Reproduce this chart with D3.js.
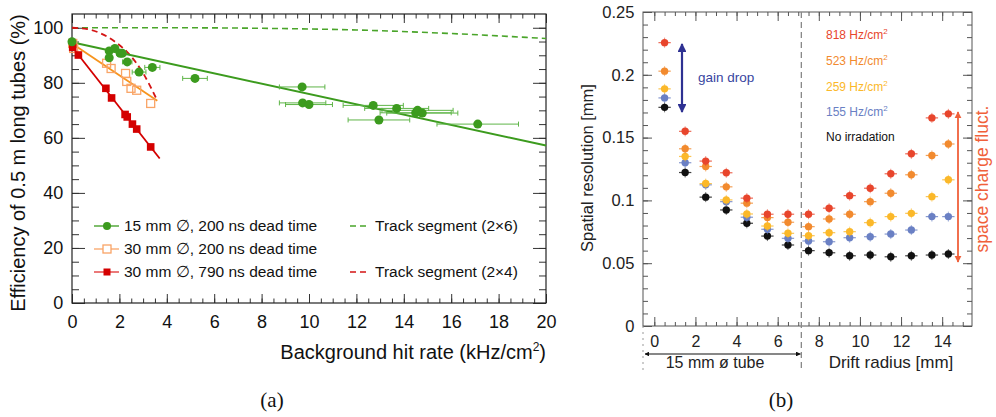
<!DOCTYPE html>
<html>
<head>
<meta charset="utf-8">
<title>Tube efficiency and spatial resolution</title>
<script src="https://d3js.org/d3.v7.min.js"></script>
<style>
  html, body { margin: 0; padding: 0; background: #fff; overflow: hidden; }
  svg { display: block; font-family: "Liberation Sans", Arial, sans-serif; }
  .minor .domain, .major .domain { display: none; }
</style>
</head>
<body>
<svg id="chart" width="996" height="417"></svg>
<script>
// ---- panel (a): efficiency vs background hit rate ----
var effX15  = [0, 1.57, 1.81, 2.03, 2.12, 1.57, 2.33, 2.83, 3.39, 5.19, 9.71, 9.73, 10.0, 12.71, 12.95, 13.7, 14.5, 14.58, 14.78, 17.12];
var effY15  = [94.9, 91.6, 92.5, 90.7, 90.7, 89.1, 87.6, 83.9, 85.6, 81.6, 78.5, 72.7, 72.1, 71.8, 66.5, 70.7, 69.1, 70.0, 69.0, 65.0];
var errX15  = [0, 0.1, 0.1, 0.15, 0.15, 0.1, 0.2, 0.29, 0.32, 0.52, 0.96, 0.98, 0.99, 1.27, 1.3, 1.35, 1.5, 1.5, 1.5, 1.72];
var effX30  = [0.03, 0.07, 1.46, 1.65, 2.26, 2.31, 2.49, 2.73, 3.32];
var effY30  = [94.3, 92.5, 87.1, 85.2, 83.4, 80.5, 78.0, 77.3, 72.5];
var effX790 = [0.03, 0.27, 1.43, 1.67, 2.24, 2.33, 2.55, 2.73, 3.32];
var effY790 = [92.9, 90.1, 78.0, 74.5, 68.5, 67.6, 65.0, 63.2, 56.7];
// fitted lines
var fitX15 = [0, 20],   fitY15 = [94.7, 57.2];
var fitX30 = [0, 3.6],  fitY30 = [94.3, 73.5];
var fitX790 = [0, 3.7], fitY790 = [93.1, 52.5];
// track segment curves
var trkX6 = [0, 4, 8, 12, 16, 20];
var trkY6 = [100, 100, 99.8, 99.2, 97.9, 96.1];
var trkX4 = [0, 0.6, 1.2, 1.8, 2.4, 3.0, 3.6];
var trkY4 = [100, 99.6, 98, 95, 90.5, 83.5, 73.5];
var legendA = ["15 mm \u2205, 200 ns dead time", "30 mm \u2205, 200 ns dead time", "30 mm \u2205, 790 ns dead time"];
var legendTrk = ["Track segment (2\u00d76)", "Track segment (2\u00d74)"];

// ---- panel (b): spatial resolution vs drift radius ----
var rRad   = [0.5, 1.5, 2.5, 3.5, 4.5, 5.5, 6.5, 7.5, 8.5, 9.5, 10.5, 11.5, 12.5, 13.5, 14.3];
var res818 = [0.2256, 0.155, 0.1313, 0.122, 0.1018, 0.089, 0.089, 0.089, 0.0938, 0.1038, 0.1097, 0.1212, 0.1371, 0.1657, 0.1689];
var res523 = [0.2029, 0.1411, 0.127, 0.1108, 0.0978, 0.0863, 0.0826, 0.0791, 0.0852, 0.089, 0.099, 0.1057, 0.1204, 0.1358, 0.1449];
var res259 = [0.1888, 0.135, 0.1134, 0.1004, 0.0892, 0.0796, 0.0738, 0.0719, 0.0743, 0.0751, 0.0823, 0.0871, 0.0897, 0.103, 0.1164];
var res155 = [0.1816, 0.130, 0.1124, 0.099, 0.0866, 0.077, 0.0698, 0.0677, 0.0671, 0.0703, 0.0711, 0.0732, 0.0764, 0.0871, 0.0871];
var res0   = [0.1741, 0.1222, 0.1026, 0.0924, 0.0818, 0.0716, 0.0645, 0.060, 0.0583, 0.0559, 0.0565, 0.0551, 0.0559, 0.0565, 0.0573];
var rateLabels = ["818 Hz/cm", "523 Hz/cm", "259 Hz/cm", "155 Hz/cm", "No irradation"];

var svg = d3.select("#chart");

// draws major (labelled) + minor ticks for one side of a frame
function sideTicks(g, axisFn, scale, majors, minors, majLen, minLen, fmt, fontSize) {
  g.append("g").attr("class", "minor")
    .call(axisFn(scale).tickValues(minors).tickSize(-minLen).tickFormat(""));
  var maj = g.append("g").attr("class", "major")
    .call(axisFn(scale).tickValues(majors).tickSize(-majLen).tickPadding(7).tickFormat(fmt || ""));
  maj.selectAll("text").attr("font-size", fontSize || 18).attr("font-family", null).attr("fill", "#111");
  return maj;
}

// ================= panel (a) =================
var xA = d3.scaleLinear().domain([0, 20]).range([72, 546]);
var yA = d3.scaleLinear().domain([0, 105]).range([303, 14]);
var gA = svg.append("g");

var xMajA = d3.range(0, 20.01, 2), xMinA = d3.range(0, 20.01, 0.5);
var yMajA = d3.range(0, 100.1, 20), yMinA = d3.range(0, 105, 5);
sideTicks(gA.append("g").attr("transform", "translate(0,303)"), d3.axisBottom, xA, xMajA, xMinA, 9, 4.5, d3.format("d"))
  .selectAll("text").attr("dy", "1.0em");
sideTicks(gA.append("g").attr("transform", "translate(0,14)"), d3.axisTop, xA, xMajA, xMinA, 9, 4.5);
sideTicks(gA.append("g").attr("transform", "translate(72,0)"), d3.axisLeft, yA, yMajA, yMinA, 13, 7, d3.format("d"))
  .selectAll("text").attr("dx", "-0.1em");
sideTicks(gA.append("g").attr("transform", "translate(546,0)"), d3.axisRight, yA, yMajA, yMinA, 13, 7);
gA.selectAll(".tick line").attr("stroke", "#333");
gA.append("rect").attr("x", 72).attr("y", 14).attr("width", 474).attr("height", 289)
  .attr("fill", "none").attr("stroke", "#222").attr("stroke-width", 1.2);

var lineA = d3.line().x(function(d) { return xA(d[0]); }).y(function(d) { return yA(d[1]); });
var smoothA = d3.line().curve(d3.curveMonotoneX).x(function(d) { return xA(d[0]); }).y(function(d) { return yA(d[1]); });
function pairs(xs, ys) { return xs.map(function(x, i) { return [x, ys[i]]; }); }

gA.append("path").attr("d", smoothA(pairs(trkX6, trkY6))).attr("fill", "none")
  .attr("stroke", "#4aa52a").attr("stroke-width", 1.6).attr("stroke-dasharray", "6,4");
gA.append("path").attr("d", smoothA(pairs(trkX4, trkY4))).attr("fill", "none")
  .attr("stroke", "#d41414").attr("stroke-width", 1.8).attr("stroke-dasharray", "6,4");
gA.append("path").attr("d", lineA(pairs(fitX15, fitY15))).attr("fill", "none")
  .attr("stroke", "#3c9b1e").attr("stroke-width", 2);
gA.append("path").attr("d", lineA(pairs(fitX30, fitY30))).attr("fill", "none")
  .attr("stroke", "#f7941d").attr("stroke-width", 1.8);
gA.append("path").attr("d", lineA(pairs(fitX790, fitY790))).attr("fill", "none")
  .attr("stroke", "#d40000").attr("stroke-width", 1.8);

// green horizontal error bars
var g15 = pairs(effX15, effY15).map(function(p, i) { return { x: p[0], y: p[1], e: errX15[i] }; });
var eb = gA.append("g").attr("stroke", "#5fb548").attr("stroke-width", 1);
g15.filter(function(d) { return d.e > 0.12; }).forEach(function(d) {
  var y = yA(d.y);
  eb.append("line").attr("x1", xA(d.x - d.e)).attr("x2", xA(d.x + d.e)).attr("y1", y).attr("y2", y);
  eb.append("line").attr("x1", xA(d.x - d.e)).attr("x2", xA(d.x - d.e)).attr("y1", y - 2.5).attr("y2", y + 2.5);
  eb.append("line").attr("x1", xA(d.x + d.e)).attr("x2", xA(d.x + d.e)).attr("y1", y - 2.5).attr("y2", y + 2.5);
});

gA.append("g").selectAll("rect").data(pairs(effX30, effY30)).join("rect")
  .attr("x", function(d) { return xA(d[0]) - 4; }).attr("y", function(d) { return yA(d[1]) - 4; })
  .attr("width", 8).attr("height", 8).attr("fill", "none").attr("stroke", "#f9a466").attr("stroke-width", 1.3);
gA.append("g").selectAll("rect").data(pairs(effX790, effY790)).join("rect")
  .attr("x", function(d) { return xA(d[0]) - 3.8; }).attr("y", function(d) { return yA(d[1]) - 3.8; })
  .attr("width", 7.6).attr("height", 7.6).attr("fill", "#d40000");
gA.append("g").selectAll("circle").data(g15).join("circle")
  .attr("cx", function(d) { return xA(d.x); }).attr("cy", function(d) { return yA(d.y); })
  .attr("r", 4.5).attr("fill", "#3c9b1e");

// legend (a)
var legY = [226, 249, 272];
var legCol = ["#3c9b1e", "#f9a466", "#e03030"];
legendA.forEach(function(t, i) {
  var row = gA.append("g").attr("transform", "translate(0," + legY[i] + ")");
  row.append("line").attr("x1", 94).attr("x2", 119).attr("stroke", legCol[i]).attr("stroke-width", 1.3);
  if (i === 0) row.append("circle").attr("cx", 107).attr("r", 4).attr("fill", "#3c9b1e");
  if (i === 1) row.append("rect").attr("x", 103).attr("y", -4).attr("width", 8).attr("height", 8)
    .attr("fill", "#fff").attr("stroke", "#f9a466").attr("stroke-width", 1.3);
  if (i === 2) row.append("rect").attr("x", 103.5).attr("y", -3.5).attr("width", 7).attr("height", 7).attr("fill", "#d40000");
  row.append("text").attr("x", 124).attr("dy", "0.35em").attr("font-size", 15.5).attr("fill", "#111").text(t);
});
[[226, "#4aa52a", legendTrk[0]], [272, "#d41414", legendTrk[1]]].forEach(function(r) {
  var row = gA.append("g").attr("transform", "translate(0," + r[0] + ")");
  row.append("line").attr("x1", 350).attr("x2", 368).attr("stroke", r[1]).attr("stroke-width", 1.5).attr("stroke-dasharray", "6,4");
  row.append("text").attr("x", 375).attr("dy", "0.35em").attr("font-size", 15.5).attr("fill", "#111").text(r[2]);
});

// axis titles (a)
var xtA = gA.append("text").attr("x", 546).attr("y", 359).attr("text-anchor", "end").attr("font-size", 20).attr("fill", "#111");
xtA.append("tspan").text("Background hit rate (kHz/cm");
xtA.append("tspan").attr("dy", -8).attr("font-size", 12).text("2");
xtA.append("tspan").attr("dy", 8).text(")");
gA.append("text").attr("transform", "translate(25,163) rotate(-90)").attr("text-anchor", "middle")
  .attr("font-size", 20).attr("fill", "#111").text("Efficiency of 0.5 m long tubes (%)");
gA.append("text").attr("x", 272).attr("y", 407).attr("text-anchor", "middle")
  .attr("font-family", "'Liberation Serif', 'DejaVu Serif', serif").attr("font-size", 21).attr("fill", "#111").text("(a)");

// ================= panel (b) =================
var xB = d3.scaleLinear().domain([-0.55, 15.45]).range([643, 972]);
var yB = d3.scaleLinear().domain([0, 0.25]).range([326, 12]);
var gB = svg.append("g");

var xMajB = d3.range(0, 14.1, 2), xMinB = d3.range(0, 15.01, 0.5);
var yMajB = d3.range(0, 0.2501, 0.05), yMinB = d3.range(0, 0.2501, 0.01);
var fmtB = function(v) { return v === 0 ? "0" : d3.format(".2~f")(v); };
sideTicks(gB.append("g").attr("transform", "translate(0,326)"), d3.axisBottom, xB, xMajB, xMinB, 9, 4, d3.format("d"), 16)
  .selectAll("text").attr("dy", "0.9em");
sideTicks(gB.append("g").attr("transform", "translate(0,12)"), d3.axisTop, xB, xMajB, xMinB, 9, 4);
sideTicks(gB.append("g").attr("transform", "translate(643,0)"), d3.axisLeft, yB, yMajB, yMinB, 9, 5, fmtB, 16.5)
  .selectAll("text").attr("dx", "-0.1em");
sideTicks(gB.append("g").attr("transform", "translate(972,0)"), d3.axisRight, yB, yMajB, yMinB, 9, 5);
gB.selectAll(".tick line").attr("stroke", "#555");
gB.selectAll(".major text").attr("fill", "#222");
gB.append("rect").attr("x", 643).attr("y", 12).attr("width", 329).attr("height", 314)
  .attr("fill", "none").attr("stroke", "#555").attr("stroke-width", 1);

// tube boundary and annotations
gB.append("line").attr("x1", xB(7.15)).attr("x2", xB(7.15)).attr("y1", 12).attr("y2", 372)
  .attr("stroke", "#888").attr("stroke-width", 1.3).attr("stroke-dasharray", "6,4");
gB.append("line").attr("x1", 643).attr("x2", 643).attr("y1", 326).attr("y2", 372)
  .attr("stroke", "#999").attr("stroke-width", 1).attr("stroke-dasharray", "2,4");

var defs = svg.append("defs");
function marker(id, col) {
  defs.append("marker").attr("id", id).attr("viewBox", "0 0 10 10").attr("refX", 9).attr("refY", 5)
    .attr("markerWidth", 4).attr("markerHeight", 4).attr("orient", "auto-start-reverse")
    .append("path").attr("d", "M0,0L10,5L0,10Z").attr("fill", col);
}
marker("arrK", "#111"); marker("arrB", "#2e3192"); marker("arrR", "#f0603a");

gB.append("line").attr("x1", 645).attr("x2", xB(7.15) - 1).attr("y1", 354).attr("y2", 354)
  .attr("stroke", "#111").attr("stroke-width", 1.2)
  .attr("marker-start", "url(#arrK)").attr("marker-end", "url(#arrK)");
gB.append("text").attr("x", 715).attr("y", 368).attr("text-anchor", "middle").attr("font-size", 16)
  .attr("fill", "#222").text("15 mm \u00f8 tube");
gB.append("text").attr("x", 891).attr("y", 368).attr("text-anchor", "middle").attr("font-size", 17)
  .attr("fill", "#222").text("Drift radius [mm]");
gB.append("text").attr("transform", "translate(593,168) rotate(-90)").attr("text-anchor", "middle")
  .attr("font-size", 16.5).attr("fill", "#222").text("Spatial resolution [mm]");
gB.append("text").attr("x", 781).attr("y", 407).attr("text-anchor", "middle")
  .attr("font-family", "'Liberation Serif', 'DejaVu Serif', serif").attr("font-size", 21).attr("fill", "#111").text("(b)");

// gain drop arrow
gB.append("line").attr("x1", 682).attr("x2", 682).attr("y1", 44).attr("y2", 112)
  .attr("stroke", "#2e3192").attr("stroke-width", 2.2)
  .attr("marker-start", "url(#arrB)").attr("marker-end", "url(#arrB)");
gB.append("text").attr("x", 698).attr("y", 77).attr("dy", "0.35em").attr("font-size", 13.5)
  .attr("fill", "#3845a0").text("gain drop");

// space charge arrow
gB.append("line").attr("x1", 958).attr("x2", 958).attr("y1", 112).attr("y2", 262)
  .attr("stroke", "#f0603a").attr("stroke-width", 1.8)
  .attr("marker-start", "url(#arrR)").attr("marker-end", "url(#arrR)");
gB.append("text").attr("transform", "translate(982,179) rotate(-90)").attr("text-anchor", "middle")
  .attr("dy", "0.35em").attr("font-size", 17.5).attr("fill", "#f0603a").text("space charge fluct.");

// data series
var seriesB = [
  { v: res0,   c: "#111111" },
  { v: res155, c: "#6a80c4" },
  { v: res259, c: "#fbb829" },
  { v: res523, c: "#f28a2e" },
  { v: res818, c: "#e8452c" }
];
seriesB.forEach(function(s) {
  var g = gB.append("g");
  var pts = rRad.map(function(r, i) { return { x: r, y: s.v[i] }; });
  pts.forEach(function(d) {
    var cx = xB(d.x), cy = yB(d.y);
    g.append("line").attr("x1", xB(d.x - 0.3)).attr("x2", xB(d.x + 0.3)).attr("y1", cy).attr("y2", cy)
      .attr("stroke", s.c).attr("stroke-width", 1.2).attr("opacity", 0.8);
    g.append("line").attr("x1", cx).attr("x2", cx).attr("y1", cy - 5).attr("y2", cy + 5)
      .attr("stroke", s.c).attr("stroke-width", 1).attr("opacity", 0.6);
  });
  g.selectAll("circle").data(pts).join("circle")
    .attr("cx", function(d) { return xB(d.x); }).attr("cy", function(d) { return yB(d.y); })
    .attr("r", 3.7).attr("fill", s.c);
});

// legend (b)
var legColB = ["#e8452c", "#f28a2e", "#fbb829", "#6a80c4", "#111111"];
var legYB = [35, 61, 87, 112, 137];
rateLabels.forEach(function(t, i) {
  var tx = gB.append("text").attr("x", 826).attr("y", legYB[i]).attr("dy", "0.35em")
    .attr("font-size", 12).attr("fill", legColB[i]);
  tx.append("tspan").text(t);
  if (i < 4) tx.append("tspan").attr("dy", -5).attr("font-size", 8).text("2");
});
</script>
</body>
</html>
